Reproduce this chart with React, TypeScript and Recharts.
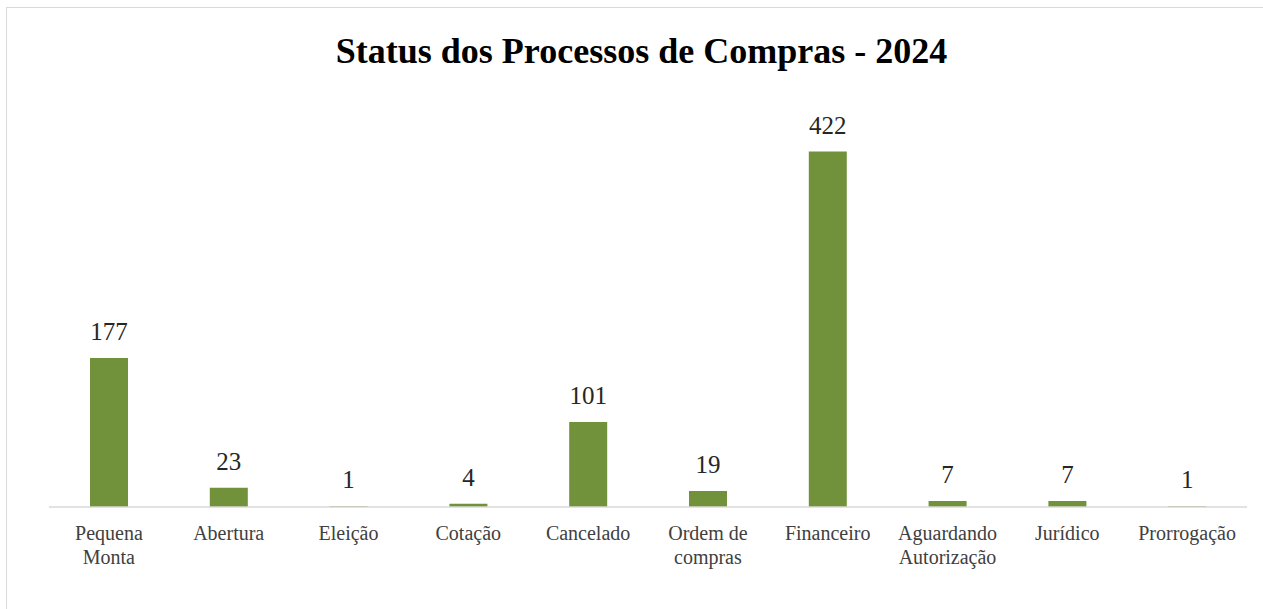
import { BarChart, Bar, XAxis, YAxis, LabelList } from 'recharts';

// Status dos processos de compras - 2024
const categories = [
  'Pequena\nMonta',
  'Abertura',
  'Eleição',
  'Cotação',
  'Cancelado',
  'Ordem de\ncompras',
  'Financeiro',
  'Aguardando\nAutorização',
  'Jurídico',
  'Prorrogação',
];
const counts = [177, 23, 1, 4, 101, 19, 422, 7, 7, 1];

const data = categories.map((name, i) => ({ name, value: counts[i] }));

const SERIF = '"Liberation Serif", "Times New Roman", serif';

function CategoryTick(props: any) {
  const { x, y, payload } = props;
  const lines: string[] = String(payload.value).split('\n');
  return (
    <text x={x} y={y} textAnchor="middle" fill="#404040" style={{ fontFamily: SERIF, fontSize: 20 }}>
      {lines.map((line, i) => (
        <tspan key={i} x={x} dy={i === 0 ? 25 : 24}>
          {line}
        </tspan>
      ))}
    </text>
  );
}

export default function App() {
  return (
    <div style={{ position: 'absolute', left: 0, top: 0, width: 1263, height: 609, overflow: 'hidden', background: '#fff' }}>
      <div
        style={{
          position: 'absolute',
          left: 6,
          top: 7,
          width: 1280,
          height: 630,
          border: '1.5px solid #d9d9d9',
        }}
      />
      <div
        style={{
          position: 'absolute',
          left: 0,
          top: 30,
          width: 1283,
          textAlign: 'center',
          fontFamily: SERIF,
          fontWeight: 'bold',
          fontSize: 36,
          lineHeight: 'normal',
          color: '#000',
        }}
      >
        Status dos Processos de Compras - 2024
      </div>
      <div style={{ position: 'absolute', left: 0, top: 0 }}>
        <BarChart
          width={1263}
          height={609}
          data={data}
          margin={{ top: 128, right: 16, bottom: 0, left: 49 }}
          style={{ fontFamily: SERIF }}
        >
          <XAxis
            dataKey="name"
            interval={0}
            axisLine={{ stroke: '#d9d9d9', strokeWidth: 1.5 }}
            tickLine={false}
            tick={<CategoryTick />}
            height={102}
          />
          <YAxis hide domain={[0, 450]} />
          <Bar dataKey="value" fill="#71913b" barSize={38} isAnimationActive={false}>
            <LabelList
              dataKey="value"
              position="top"
              offset={18}
              fill="#262626"
              style={{ fontFamily: SERIF, fontSize: 25 }}
            />
          </Bar>
        </BarChart>
      </div>
    </div>
  );
}
